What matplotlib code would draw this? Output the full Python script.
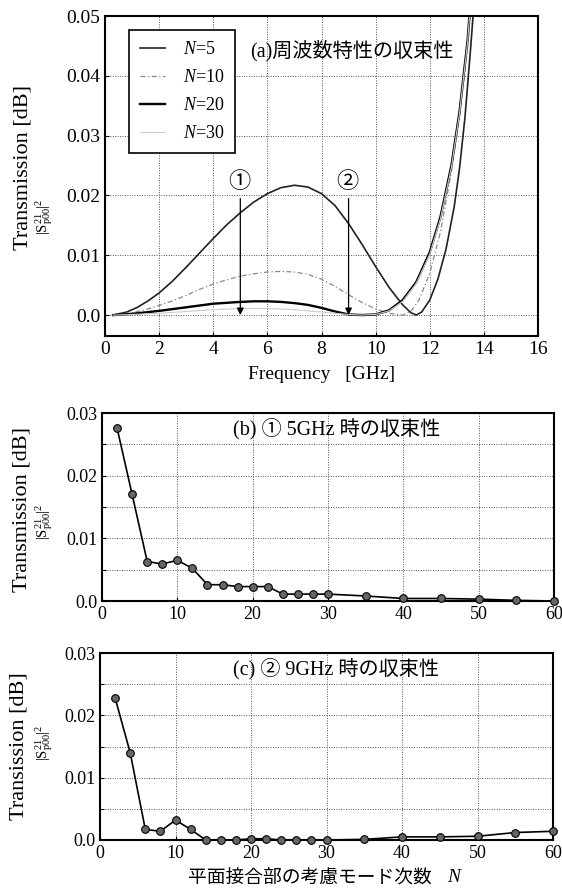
import matplotlib
matplotlib.use("Agg")
import matplotlib.pyplot as plt

plt.rcParams['font.family'] = ['Liberation Serif', 'Noto Sans CJK JP']
plt.rcParams['mathtext.fontset'] = 'custom'
plt.rcParams['mathtext.rm'] = 'Liberation Serif'
plt.rcParams['mathtext.it'] = 'Liberation Serif:italic'

# (a) transmission vs frequency for N = 5, 10, 20, 30
freq_n5 = [0.3, 0.8, 1.2, 1.6, 2.0, 2.5, 3.0, 3.5, 4.0, 4.5, 5.0, 5.5, 6.0, 6.5, 7.0,
           7.5, 8.0, 8.5, 9.0, 9.5, 10.0, 10.5, 11.0, 11.3, 11.5, 11.7, 12.0, 12.3,
           12.6, 12.9, 13.1, 13.3, 13.5, 13.65]
trans_n5 = [0.0, 0.0005, 0.0013, 0.0024, 0.0037, 0.0057, 0.0080, 0.0104, 0.0128,
            0.0151, 0.0171, 0.0189, 0.0203, 0.0213, 0.0217, 0.0214, 0.0203, 0.0183,
            0.0153, 0.0118, 0.0081, 0.0046, 0.0017, 0.0004, 0.0, 0.0005, 0.0025,
            0.0060, 0.0110, 0.0180, 0.0245, 0.0330, 0.0440, 0.0530]

freq_n10 = [0.3, 1.0, 1.5, 2.0, 2.5, 3.0, 3.5, 4.0, 4.5, 5.0, 5.5, 6.0, 6.5, 7.0, 7.5,
            8.0, 8.5, 9.0, 9.5, 10.0, 10.5, 11.0, 11.3, 11.6, 12.0, 12.4, 12.8, 13.1,
            13.4, 13.55]
trans_n10 = [0.0, 0.0004, 0.0009, 0.0016, 0.0024, 0.0033, 0.0043, 0.0052, 0.0059,
             0.0065, 0.0069, 0.0072, 0.0073, 0.0072, 0.0068, 0.0060, 0.0048, 0.0034,
             0.0021, 0.0010, 0.0003, 0.0, 0.0006, 0.0025, 0.0070, 0.0140, 0.0240,
             0.0330, 0.0450, 0.0530]

freq_n20 = [0.3, 1.0, 2.0, 3.0, 4.0, 5.0, 5.5, 6.0, 6.5, 7.0, 7.5, 8.0, 8.5, 9.0, 9.5,
            10.0, 10.5, 11.0, 11.5, 12.0, 12.4, 12.8, 13.1, 13.4, 13.5]
trans_n20 = [0.0, 0.0002, 0.0007, 0.0013, 0.0019, 0.0022, 0.0023, 0.0023, 0.0022,
             0.0020, 0.0017, 0.0012, 0.0006, 0.0001, 0.0, 0.0001, 0.0008, 0.0025,
             0.0055, 0.0105, 0.0165, 0.0250, 0.0340, 0.0460, 0.0520]

freq_n30 = [0.3, 1.0, 2.0, 3.0, 4.0, 5.0, 6.0, 7.0, 8.0, 9.0, 9.5, 10.0, 10.5, 11.0,
            11.5, 12.0, 12.4, 12.8, 13.1, 13.4, 13.5]
trans_n30 = [0.0, 0.0001, 0.0003, 0.0006, 0.0009, 0.0011, 0.0011, 0.0009, 0.0005,
             0.0001, 0.0, 0.0001, 0.0007, 0.0023, 0.0053, 0.0102, 0.0162, 0.0247,
             0.0337, 0.0457, 0.0517]

# (b), (c) convergence against mode count N
modes = [2, 4, 6, 8, 10, 12, 14, 16, 18, 20, 22, 24, 26, 28, 30, 35, 40, 45, 50, 55, 60]
trans_5ghz = [0.0276, 0.0170, 0.0063, 0.0059, 0.0065, 0.0052, 0.0026, 0.0026, 0.0023,
              0.0023, 0.0023, 0.0011, 0.0011, 0.0011, 0.0011, 0.0008, 0.0004, 0.0004,
              0.0003, 0.0001, 0.0000]
trans_9ghz = [0.0228, 0.0140, 0.0017, 0.0014, 0.0032, 0.0017, 0.0000, 0.0000, 0.0000,
              0.0002, 0.0002, 0.0000, 0.0000, 0.0000, 0.0000, 0.0001, 0.0005, 0.0005,
              0.0006, 0.0012, 0.0014]

W, H = 562, 890
fig = plt.figure(figsize=(W / 100, H / 100), dpi=100)


def box(l, t, r, b):
    return [l / W, 1 - b / H, (r - l) / W, (b - t) / H]


def style(ax):
    for s in ax.spines.values():
        s.set_linewidth(1.5)
    ax.tick_params(direction='in', length=3, width=0.8, which='both')
    ax.grid(True, which='both', ls=(0, (1, 1.5)), color='#555', lw=0.7)
    ax.set_axisbelow(True)


def ylab(x, y, name, sx, sy):
    fig.text(x / W, 1 - y / H, name, rotation=90, ha='center', va='center', fontsize=16)
    fig.text(sx / W, 1 - sy / H, r'$|\mathrm{S}^{21}_{\mathrm{p00}}|^2$', rotation=90,
             ha='center', va='center', fontsize=10.5)


# ---- (a)
ax = fig.add_axes(box(105, 16, 538, 336))
style(ax)
ax.plot(freq_n5, trans_n5, color='#222', lw=1.2, label='$N$=5')
ax.plot(freq_n10, trans_n10, color='#888', lw=0.9, ls=(0, (4, 2, 1, 2)), label='$N$=10')
ax.plot(freq_n20, trans_n20, color='k', lw=1.7, label='$N$=20')
ax.plot(freq_n30, trans_n30, color='#ccc', lw=0.8, label='$N$=30')
ax.set_xlim(0, 16)
ax.set_ylim(-0.0035, 0.05)
ax.set_xticks(range(0, 17, 2))
ax.set_yticks([0, 0.01, 0.02, 0.03, 0.04, 0.05])
ax.set_yticklabels(['0.0', '0.01', '0.02', '0.03', '0.04', '0.05'])
ax.tick_params(labelsize=14)
ax.set_xlabel('Frequency   [GHz]', fontsize=14, labelpad=6)
leg = ax.legend(loc='upper left', bbox_to_anchor=(0.055, 0.956), fontsize=13,
                frameon=True, fancybox=False, edgecolor='k', framealpha=1,
                handlelength=1.4, handletextpad=1.0, labelspacing=0.62,
                borderpad=0.6, borderaxespad=0)
leg.get_frame().set_linewidth(1.2)
ax.text(0.335, 0.893, '(a)周波数特性の収束性', transform=ax.transAxes, fontsize=14.5,
        ha='left', va='center')
for f, mark in [(5, '①'), (9, '②')]:
    ax.annotate('', xy=(f, 0.0), xytext=(f, 0.0195),
                arrowprops=dict(arrowstyle='-|>', color='k', lw=0.9,
                                mutation_scale=10, shrinkA=0, shrinkB=0))
    ax.text(f - 0.05, 0.0222, mark, fontsize=16, ha='center', va='center')
ylab(23, 167, 'Transmission [dB]', 44, 217)

# ---- (b), (c)
panels = [
    ((102, 413, 554, 601), trans_5ghz, '(b) ① 5GHz 時の収束性', 'Transmission [dB]',
     (22, 510, 44, 522)),
    ((100, 653, 553, 840), trans_9ghz, '(c) ② 9GHz 時の収束性', 'Transission [dB]',
     (19, 746, 44, 743)),
]
for rect, vals, title, name, lab in panels:
    ax = fig.add_axes(box(*rect))
    style(ax)
    ax.plot(modes, vals, color='k', lw=1.2, marker='o', ms=5.5,
            mfc='#666', mec='k', mew=0.8, clip_on=False, zorder=3)
    ax.set_xlim(0, 60)
    ax.set_ylim(0, 0.03)
    ax.set_xticks(range(0, 61, 10))
    ax.set_yticks([0, 0.01, 0.02, 0.03])
    ax.set_yticks([0.005, 0.015, 0.025], minor=True)
    ax.set_yticklabels(['0.0', '0.01', '0.02', '0.03'])
    ax.tick_params(labelsize=13)
    ax.text(0.52, 0.915, title, transform=ax.transAxes, fontsize=14.5,
            ha='center', va='center')
    ylab(lab[0], lab[1], name, lab[2], lab[3])

fig.text(310 / W, 1 - 878 / H, '平面接合部の考慮モード次数', fontsize=13.5,
         ha='center', va='center')
fig.text(454 / W, 1 - 878 / H, 'N', fontsize=14, style='italic',
         ha='center', va='center')

fig.savefig('out.png', dpi=100)
